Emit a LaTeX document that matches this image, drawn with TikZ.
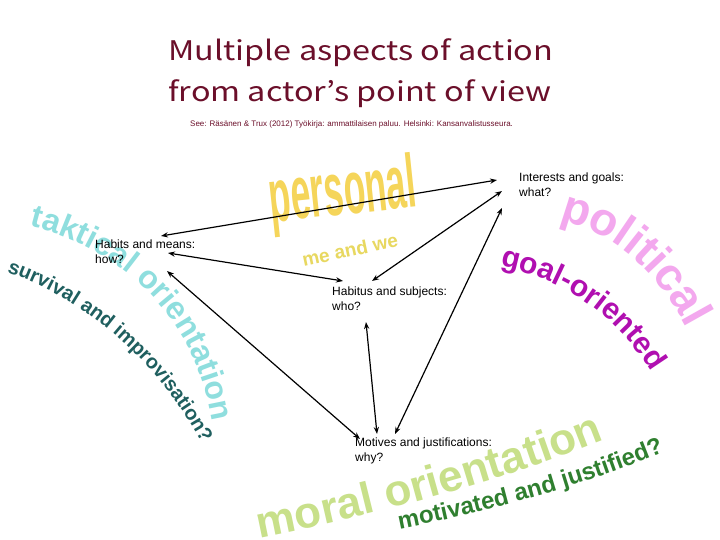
\documentclass[tikz,border=0pt]{standalone}
\usepackage{fontspec}
\setmainfont{Liberation Sans}
\newfontfamily\titlefont{Noto Sans CJK JP}
\usetikzlibrary{decorations.text,arrows.meta}
\definecolor{ttl}{HTML}{6B0F2A}
\definecolor{yel}{HTML}{F5D55A}
\definecolor{pinkc}{HTML}{F3A8EE}
\definecolor{purp}{HTML}{B00FB0}
\definecolor{cyanc}{HTML}{8FDEDE}
\definecolor{teal}{HTML}{1F5F5F}
\definecolor{lgreen}{HTML}{C8E08A}
\definecolor{dgreen}{HTML}{2F7F2F}
\definecolor{olive}{HTML}{E8D860}
\tikzset{
  lab/.style={anchor=north west,align=left,font=\fontsize{12}{15}\selectfont,inner sep=0pt},
  link/.style={{Stealth[length=7pt]}-{Stealth[length=7pt]},line width=1.2pt},
  art/.style={decorate,decoration={text along path,text align=center,text format delimiters={|}{|}}}
}
\begin{document}
\begin{tikzpicture}[x=1pt,y=1pt]
\useasboundingbox[fill=white] (0,0) rectangle (720,-540);
% title
\node[anchor=north west,inner sep=0pt,align=left,text=ttl,font=\titlefont\fontsize{27}{41}\selectfont,xscale=1.2] (title) at (168,-38) {Multiple aspects of action\\from actor’s point of view};
\node[anchor=west,inner sep=0pt,text=ttl,font=\fontsize{8}{9}\selectfont] (cite) at (190,-124) {See: Räsänen \& Trux (2012) Työkirja: ammattilaisen paluu. Helsinki: Kansanvalistusseura.};
% word art
\node[text=yel,font=\bfseries\fontsize{52}{52}\selectfont,rotate=6,xscale=0.68,yscale=1.45] (pers) at (343,-195) {personal};
\node[text=olive,font=\bfseries\fontsize{19}{19}\selectfont,rotate=12] (mewe) at (350,-250) {me and we};
\path[art,decoration={text={|\bfseries\fontsize{46}{46}\selectfont\color{pinkc}|political}}] (530,-215) .. controls (610,-222) and (662,-270) .. (700,-355);
\path[art,decoration={text={|\bfseries\fontsize{30}{30}\selectfont\color{purp}|goal-oriented}}] (474,-262) .. controls (565,-272) and (628,-322) .. (664,-395);
\path[art,decoration={text={|\bfseries\fontsize{32}{32}\selectfont\color{cyanc}|taktical orientation}}] (12,-222) .. controls (100,-238) and (200,-300) .. (215,-440);
\path[art,decoration={text={|\bfseries\fontsize{20}{20}\selectfont\color{teal}|survival and improvisation?}}] (0,-270) .. controls (80,-295) and (160,-360) .. (205,-450);
\path[art,decoration={text={|\bfseries\fontsize{44}{44}\selectfont\color{lgreen}|moral orientation}}] (222,-545) .. controls (350,-522) and (510,-482) .. (640,-425);
\path[art,decoration={text={|\bfseries\fontsize{24}{24}\selectfont\color{dgreen}|motivated and justified?}}] (385,-532) .. controls (500,-510) and (600,-480) .. (678,-446);
% labels
\node[lab] (what) at (519,-173) {Interests and goals:\\what?};
\node[lab] (how) at (95,-240) {Habits and means:\\how?};
\node[lab] (who) at (332,-287) {Habitus and subjects:\\who?};
\node[lab] (why) at (355,-438) {Motives and justifications:\\why?};
% connector end points
\coordinate (h1) at (161,-236); \coordinate (w1) at (497,-180);
\coordinate (h2) at (168,-253); \coordinate (s2) at (343,-281);
\coordinate (w3) at (502,-191); \coordinate (s3) at (372,-281);
\coordinate (h4) at (167,-271); \coordinate (m4) at (360,-439);
\coordinate (s5) at (366,-322); \coordinate (m5) at (377,-434);
\coordinate (w6) at (502,-208); \coordinate (m6) at (395,-434);
\draw[link] (h1) -- (w1);
\draw[link] (h2) -- (s2);
\draw[link] (w3) -- (s3);
\draw[link] (h4) -- (m4);
\draw[link] (s5) -- (m5);
\draw[link] (w6) -- (m6);
\end{tikzpicture}
\end{document}
